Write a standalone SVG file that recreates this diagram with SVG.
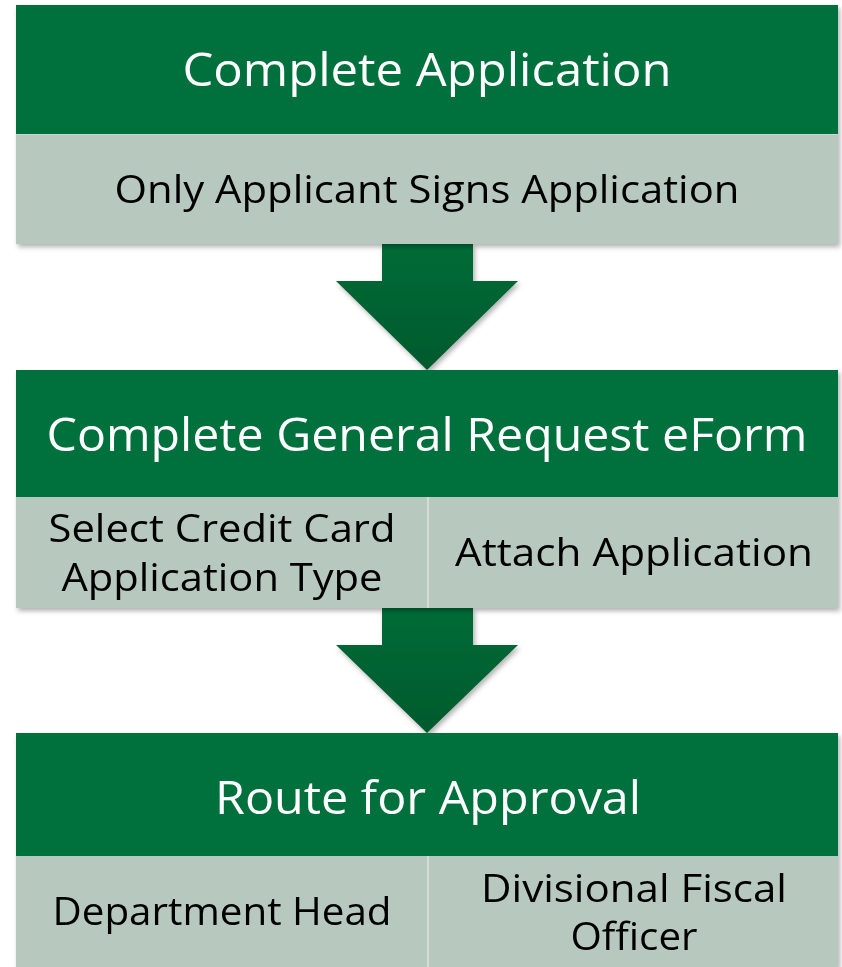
<svg xmlns="http://www.w3.org/2000/svg" width="842" height="967" viewBox="0 0 842 967">
<defs>
<filter id="sh" x="-5%" y="-5%" width="110%" height="120%">
<feDropShadow dx="2" dy="3" stdDeviation="2.5" flood-color="#000" flood-opacity="0.3"/>
</filter>
<linearGradient id="ag" x1="0" y1="0" x2="0" y2="1">
<stop offset="0" stop-color="#006b37"/>
<stop offset="1" stop-color="#005a2c"/>
</linearGradient>
<style>
.hd{fill:#01703c}
.sb{fill:#b7c9be}
.dv{stroke:#d3ddd6;stroke-width:2}
.t{font-family:"Open Sans","Noto Sans",sans-serif;text-anchor:middle}
.ht{fill:#fff;font-size:46px}
.st{fill:#000;font-size:38px}
.ar{fill:url(#ag)}
</style>
</defs>
<rect width="842" height="967" fill="#fff"/>
<g id="connectors" filter="url(#sh)">
<path class="ar" d="M382,244 H473 V281 H518 L427,370 L336,281 H382 Z"/>
<path class="ar" d="M382,608 H473 V645 H518 L427,733 L336,645 H382 Z"/>
</g>
<g id="node1" filter="url(#sh)">
<rect class="hd" x="16" y="5" width="822" height="129"/>
<rect class="sb" x="16" y="134" width="822" height="110"/>
<line x1="16" y1="134.5" x2="838" y2="134.5" stroke="#c9d6cd" stroke-width="1"/>
<text class="t ht" x="427" y="86" textLength="489" lengthAdjust="spacingAndGlyphs">Complete Application</text>
<text class="t st" x="427" y="203" textLength="625" lengthAdjust="spacingAndGlyphs">Only Applicant Signs Application</text>
</g>
<g id="node2" filter="url(#sh)">
<rect class="hd" x="16" y="370" width="822" height="127"/>
<rect class="sb" x="16" y="497" width="822" height="111"/>
<line class="dv" x1="428" y1="497" x2="428" y2="608"/>
<text class="t ht" x="427" y="451" textLength="761" lengthAdjust="spacingAndGlyphs">Complete General Request eForm</text>
<text class="t st" x="222" y="542" textLength="347" lengthAdjust="spacingAndGlyphs">Select Credit Card</text>
<text class="t st" x="222" y="591" textLength="321" lengthAdjust="spacingAndGlyphs">Application Type</text>
<text class="t st" x="634" y="566" textLength="358" lengthAdjust="spacingAndGlyphs">Attach Application</text>
</g>
<g id="node3" filter="url(#sh)">
<rect class="hd" x="16" y="733" width="822" height="123"/>
<rect class="sb" x="16" y="856" width="822" height="111"/>
<line class="dv" x1="428" y1="856" x2="428" y2="967"/>
<text class="t ht" x="428" y="814" textLength="426" lengthAdjust="spacingAndGlyphs">Route for Approval</text>
<text class="t st" x="222" y="925" textLength="339" lengthAdjust="spacingAndGlyphs">Department Head</text>
<text class="t st" x="634" y="902" textLength="306" lengthAdjust="spacingAndGlyphs">Divisional Fiscal</text>
<text class="t st" x="634" y="950" textLength="127" lengthAdjust="spacingAndGlyphs">Officer</text>
</g>
</svg>
